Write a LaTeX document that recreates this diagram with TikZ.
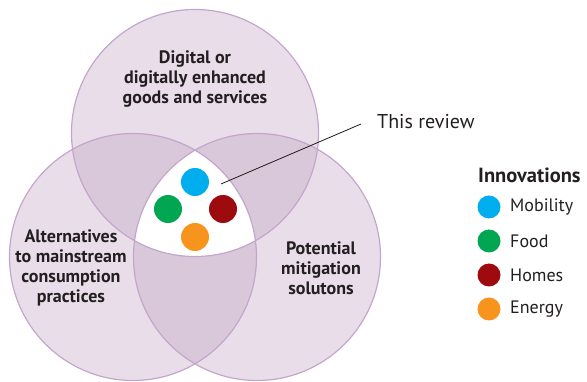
\documentclass[tikz,border=0pt]{standalone}
\usepackage{fontspec}
\setmainfont{PT Sans}
\usetikzlibrary{calc}
\definecolor{vennfill}{RGB}{189,158,190}
\definecolor{vennline}{RGB}{196,166,204}
\definecolor{txt}{RGB}{35,31,32}
\definecolor{mobility}{RGB}{0,174,239}
\definecolor{food}{RGB}{0,166,81}
\definecolor{homes}{RGB}{158,11,15}
\definecolor{energy}{RGB}{247,148,29}
\tikzset{
	setlabel/.style={align=center, text=txt, font=\bfseries\fontsize{18}{20}\selectfont},
	dot/.style={circle, inner sep=0pt, minimum size=28pt},
	keydot/.style={circle, inner sep=0pt, minimum size=23pt},
	keytext/.style={anchor=west, text=txt, font=\fontsize{18}{20}\selectfont}
}

\begin{document}
\begin{tikzpicture}[x=1pt, y=-1pt]
		%%%%% START %%%%%
		\useasboundingbox (0, 0) rectangle (587, 382);
		
		\coordinate (top) at (195, 133);
		\coordinate (lft) at (133, 257);
		\coordinate (rgt) at (257, 257);
		\def\rad{123.5pt}
		
		% the three sets
		\fill[vennfill, fill opacity=0.35] (top) circle (\rad);
		\fill[vennfill, fill opacity=0.35] (lft) circle (\rad);
		\fill[vennfill, fill opacity=0.35] (rgt) circle (\rad);
		
		% the common part is left white
		\begin{scope}
			\clip (top) circle (\rad);
			\clip (lft) circle (\rad);
			\fill[white] (rgt) circle (\rad);
		\end{scope}
		
		\draw[vennline, line width=1.2pt] (top) circle (\rad);
		\draw[vennline, line width=1.2pt] (lft) circle (\rad);
		\draw[vennline, line width=1.2pt] (rgt) circle (\rad);
		
		\node[setlabel] (digital) at (195, 79) {Digital or\\digitally enhanced\\goods and services};
		\node[setlabel] (altern) at (71, 268) {Alternatives\\to mainstream\\consumption\\practices};
		\node[setlabel] (potent) at (321, 268) {Potential\\mitigation\\solutons};
		
		\node[dot, fill=mobility] (mob) at (195, 182) {};
		\node[dot, fill=food] (foo) at (168, 209) {};
		\node[dot, fill=homes] (hom) at (223, 209) {};
		\node[dot, fill=energy] (ene) at (195, 237) {};
		
		\coordinate (revpt) at (221, 184);
		\node[keytext, font=\fontsize{20}{22}\selectfont, inner sep=0pt] (review) at (377, 122) {This review};
		\draw[line width=0.8pt, txt] (revpt) -- ($(review.west)+(-16, 2)$);
		
		% legend
		\node[keytext, font=\bfseries\fontsize{20.5}{22}\selectfont, inner sep=0pt] (innov) at (478, 175) {Innovations};
		\node[keydot, fill=mobility] (kmob) at (489, 207) {};
		\node[keydot, fill=food] (kfoo) at (489, 241) {};
		\node[keydot, fill=homes] (khom) at (489, 275) {};
		\node[keydot, fill=energy] (kene) at (489, 309) {};
		\node[keytext, inner sep=0pt] at (510, 207) {Mobility};
		\node[keytext, inner sep=0pt] at (510, 241) {Food};
		\node[keytext, inner sep=0pt] at (510, 275) {Homes};
		\node[keytext, inner sep=0pt] at (510, 309) {Energy};
		
		%%%%% END %%%%%
	\end{tikzpicture}
\end{document}
